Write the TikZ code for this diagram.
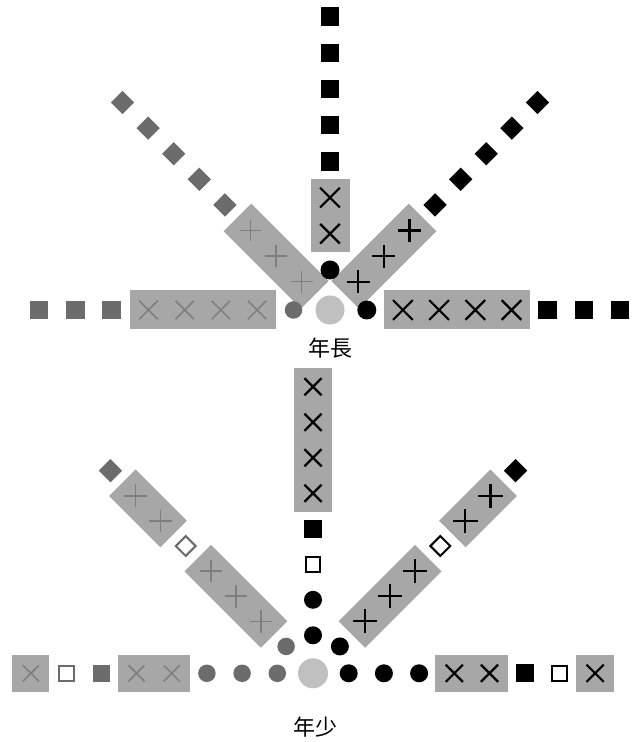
\documentclass[tikz,border=0pt]{standalone}
\usepackage{fontspec}
\newfontfamily\cjk{Noto Sans CJK TC}
\usetikzlibrary{calc,shapes.misc}
\definecolor{boxgray}{HTML}{A7A7A7}
\definecolor{dkgray}{HTML}{6C6C6C}
\definecolor{mkgray}{HTML}{7E7E7E}
\definecolor{ctrgray}{HTML}{C0C0C0}
% place a node of a style along an arm: style, name, centre, angle, distance
\newcommand\armnode[5]{\node[#1] (#2) at ($(#3)+(#4:{#5})$) {};}
% a bar along an arm: style, name, centre, angle, from, to
\newcommand\armbar[6]{\node[#1,minimum width={(#6)-(#5)},rotate=#4] (#2) at ($(#3)+(#4:{((#5)+(#6))/2})$) {};}
\begin{document}
\begin{tikzpicture}[x=1pt,y=1pt,
  barT/.style={rectangle,fill=boxgray,draw=none,inner sep=0pt,minimum height=39pt},
  barB/.style={rectangle,fill=boxgray,draw=none,inner sep=0pt,minimum height=37.5pt},
  sqg/.style={rectangle,fill=dkgray,draw=none,inner sep=0pt,minimum size=18.5pt},
  sqb/.style={sqg,fill=black},
  sqgs/.style={sqg,minimum size=17.5pt},
  sqbs/.style={sqb,minimum size=18pt},
  wsqg/.style={rectangle,fill=white,draw=dkgray,line width=2pt,inner sep=0pt,minimum size=14.5pt},
  wsqb/.style={wsqg,draw=black},
  dmg/.style={rectangle,fill=dkgray,draw=none,inner sep=0pt,minimum size=16.5pt,rotate=45},
  dmb/.style={dmg,fill=black},
  wdmg/.style={rectangle,fill=white,draw=dkgray,line width=2pt,inner sep=0pt,minimum size=14pt,rotate=45},
  wdmb/.style={wdmg,draw=black},
  cg/.style={circle,fill=dkgray,draw=none,inner sep=0pt,minimum size=17.5pt},
  cb/.style={circle,fill=black,draw=none,inner sep=0pt,minimum size=19pt},
  cbs/.style={cb,minimum size=18pt},
  ctr/.style={circle,fill=ctrgray,draw=none,inner sep=0pt,minimum size=29pt},
  xg/.style={cross out,draw=mkgray,line width=1.5pt,inner sep=0pt,minimum size=17pt},
  xb/.style={cross out,draw=black,line width=2.2pt,inner sep=0pt,minimum size=17.5pt},
  xgs/.style={xg,minimum size=14.5pt},
  xbs/.style={xb,minimum size=15pt},
  pg/.style={xg,minimum size=14pt,rotate=45},
  pb/.style={xb,minimum size=14pt,rotate=45},
  pgs/.style={xg,minimum size=14.5pt,rotate=45},
  pbs/.style={xb,minimum size=15pt,rotate=45},
  lab/.style={font=\cjk\fontsize{22pt}{22pt}\selectfont,inner sep=0pt}
]
\useasboundingbox (0,0) rectangle (642,742);
\coordinate (C1) at (330,432);
\coordinate (C2) at (313,68.7);

% ================= top: 年長 =================
\armbar{barT}{t-lbar}{C1}{180}{54.4}{200}
\armbar{barT}{t-rbar}{C1}{0}{54.4}{200}
\armbar{barT}{t-vbar}{C1}{90}{57.7}{130.9}
\armbar{barT}{t-ldbar}{C1}{135}{21.5}{130.9}
\armbar{barT}{t-rdbar}{C1}{45}{21.5}{130.9}

\foreach \k in {2,...,5}{
  \armnode{xg}{t-lx\k}{C1}{180}{36.2*\k+0.5}
  \armnode{xb}{t-rx\k}{C1}{0}{36.2*\k+0.5}
}
\foreach \k in {6,7,8}{
  \armnode{sqg}{t-ls\k}{C1}{180}{36.3*\k+0.5}
  \armnode{sqb}{t-rs\k}{C1}{0}{36.2*\k+0.5}
}
\foreach \k in {2,3}{\armnode{xb}{t-vx\k}{C1}{90}{36.2*\k+3.8}}
\foreach \k in {4,...,8}{\armnode{sqb}{t-vs\k}{C1}{90}{36.2*\k+3.8}}
\foreach \k in {1,2,3}{
  \armnode{pg}{t-ldp\k}{C1}{135}{36.2*\k+3.8}
  \armnode{pb}{t-rdp\k}{C1}{45}{36.2*\k+3.8}
}
\foreach \k in {4,...,8}{
  \armnode{dmg}{t-ldd\k}{C1}{135}{36.2*\k+3.8}
  \armnode{dmb}{t-rdd\k}{C1}{45}{36.2*\k+3.8}
}
\armnode{cg}{t-lc}{C1}{180}{36.5}
\armnode{cb}{t-rc}{C1}{0}{36.8}
\armnode{cb}{t-vc}{C1}{90}{40}
\node[ctr] (t-ctr) at (C1) {};
\node[lab] (t-lab) at (330.5,394) {年長};

% ================= bottom: 年少 =================
\armbar{barB}{b-lbar1}{C2}{180}{122.8}{195}
\armbar{barB}{b-lbar2}{C2}{180}{263.6}{300.6}
\armbar{barB}{b-rbar1}{C2}{0}{122.3}{194.5}
\armbar{barB}{b-rbar2}{C2}{0}{263.2}{300.6}
\armbar{barB}{b-vbar}{C2}{90}{161.5}{305}
\armbar{barB}{b-ldbar1}{C2}{135}{55}{163}
\armbar{barB}{b-ldbar2}{C2}{135}{197}{269.5}
\armbar{barB}{b-rdbar1}{C2}{45}{55}{163}
\armbar{barB}{b-rdbar2}{C2}{45}{197}{269.5}

% horizontal
\foreach \k in {1,2,3}{
  \armnode{cg}{b-lc\k}{C2}{180}{35.2*\k+0.5}
  \armnode{cbs}{b-rc\k}{C2}{0}{35.2*\k+0.5}
}
\foreach \k in {4,5,8}{
  \armnode{xgs}{b-lx\k}{C2}{180}{35.2*\k+0.5}
  \armnode{xbs}{b-rx\k}{C2}{0}{35.2*\k+0.5}
}
\armnode{sqgs}{b-ls6}{C2}{180}{211.7}
\armnode{sqbs}{b-rs6}{C2}{0}{211.5}
\armnode{wsqg}{b-lw7}{C2}{180}{246.7}
\armnode{wsqb}{b-rw7}{C2}{0}{246.3}

% vertical
\foreach \k in {1,2}{\armnode{cbs}{b-vc\k}{C2}{90}{35.5*\k+2.5}}
\armnode{wsqb}{b-vw3}{C2}{90}{109}
\armnode{sqbs}{b-vs4}{C2}{90}{144.5}
\foreach \k in {5,...,8}{\armnode{xbs}{b-vx\k}{C2}{90}{35.5*\k+2.5}}

% diagonals
\armnode{cg}{b-ldc1}{C2}{135}{38}
\armnode{cbs}{b-rdc1}{C2}{45}{38}
\foreach \k in {2,3,4,6,7}{
  \armnode{pgs}{b-ldp\k}{C2}{135}{35.5*\k+2.5}
  \armnode{pbs}{b-rdp\k}{C2}{45}{35.5*\k+2.5}
}
\armnode{wdmg}{b-ldw5}{C2}{135}{180}
\armnode{wdmb}{b-rdw5}{C2}{45}{180}
\armnode{dmg}{b-ldd8}{C2}{135}{286.5}
\armnode{dmb}{b-rdd8}{C2}{45}{286.5}

\node[ctr,minimum size=30pt] (b-ctr) at (C2) {};
\node[lab] (b-lab) at (315,14.5) {年少};
\end{tikzpicture}
\end{document}
